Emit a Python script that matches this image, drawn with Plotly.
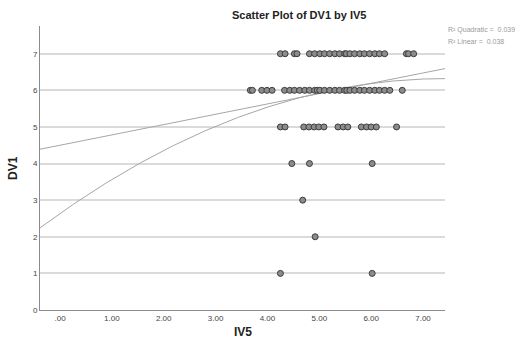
import numpy as np
import plotly.graph_objects as go

# ---- data ----
iv5_lvl7 = [4.25, 4.34, 4.52, 4.57, 4.81, 4.91, 5.01, 5.10, 5.20, 5.30, 5.39, 5.49, 5.52,
            5.59, 5.68, 5.78, 5.87, 5.97, 6.07, 6.16, 6.26, 6.68, 6.72, 6.82]
iv5_lvl6 = [3.67, 3.71, 3.89, 3.99, 4.09, 4.33, 4.43, 4.52, 4.62, 4.72, 4.81, 4.91, 4.96,
            5.01, 5.10, 5.20, 5.30, 5.39, 5.49, 5.53, 5.59, 5.68, 5.78, 5.87, 5.97, 6.07,
            6.16, 6.26, 6.36, 6.60]
iv5_lvl5 = [4.25, 4.34, 4.70, 4.80, 4.90, 4.99, 5.09, 5.36, 5.46, 5.55, 5.81, 5.91, 6.00,
            6.10, 6.49]
iv5_lvl4 = [4.47, 4.81, 6.02]
iv5_lvl3 = [4.68]
iv5_lvl2 = [4.92]
iv5_lvl1 = [4.25, 6.02]

levels = [7, 6, 5, 4, 3, 2, 1]
groups = [iv5_lvl7, iv5_lvl6, iv5_lvl5, iv5_lvl4, iv5_lvl3, iv5_lvl2, iv5_lvl1]

# fit coefficients
linear_coef = [4.50, 0.282]            # a, b
quad_coef = [2.636, 0.995, -0.0672]    # a, b, c
r2_quadratic = "0.039"
r2_linear = "0.038"

x_ticks = [0, 1, 2, 3, 4, 5, 6, 7]
x_ticktext = [".00", "1.00", "2.00", "3.00", "4.00", "5.00", "6.00", "7.00"]
y_ticks = [0, 1, 2, 3, 4, 5, 6, 7]

x_range = [-0.386, 7.424]
y_range = [0, 7.757]

# ---- build ----
xs, ys = [], []
for lv, g in zip(levels, groups):
    xs += g
    ys += [lv] * len(g)

xx = np.linspace(x_range[0], x_range[1], 200)
y_lin = linear_coef[0] + linear_coef[1] * xx
y_quad = quad_coef[0] + quad_coef[1] * xx + quad_coef[2] * xx ** 2

fig = go.Figure()
fig.add_trace(go.Scatter(x=xx, y=y_lin, mode="lines",
                         line=dict(color="#a6a6a6", width=1), hoverinfo="skip"))
fig.add_trace(go.Scatter(x=xx, y=y_quad, mode="lines",
                         line=dict(color="#a6a6a6", width=1), hoverinfo="skip"))
fig.add_trace(go.Scatter(x=xs, y=ys, mode="markers",
                         marker=dict(size=6, color="#8c8c8c",
                                     line=dict(color="#3c3c3c", width=1))))

font = "Liberation Sans, Arial, sans-serif"
fig.update_layout(
    width=518, height=345,
    margin=dict(l=40, r=73, t=26, b=35),
    paper_bgcolor="white", plot_bgcolor="white",
    showlegend=False,
    font=dict(family=font, size=8, color="#444444"),
    xaxis=dict(range=x_range, tickvals=x_ticks, ticktext=x_ticktext,
               showgrid=False, zeroline=False, showline=True,
               linecolor="#8c8c8c", linewidth=1, ticks="", ticklen=0,
               tickfont=dict(size=8, color="#444444")),
    yaxis=dict(range=y_range, tickvals=y_ticks, showgrid=True,
               gridcolor="#dadada", gridwidth=1.5, zeroline=False,
               showline=True, linecolor="#8c8c8c", linewidth=1, ticks="",
               tickfont=dict(size=8, color="#444444")),
    annotations=[
        dict(text="<b>Scatter Plot of DV1 by IV5</b>", xref="paper", yref="paper",
             x=(299 - 40) / 405, y=1 + (26 - 15) / 284, showarrow=False,
             xanchor="center", yanchor="middle",
             font=dict(family=font, size=11, color="#222222")),
        dict(text="<b>IV5</b>", xref="paper", yref="paper",
             x=0.5, y=-(332 - 310) / 284, showarrow=False,
             xanchor="center", yanchor="middle",
             font=dict(family=font, size=12, color="#222222")),
        dict(text="<b>DV1</b>", xref="paper", yref="paper",
             x=-(40 - 13) / 405, y=(310 - 168) / 284, showarrow=False, textangle=-90,
             xanchor="center", yanchor="middle",
             font=dict(family=font, size=12, color="#222222")),
        dict(text="R² Quadratic =  " + r2_quadratic, xref="paper", yref="paper",
             x=(446 - 40) / 405, y=(310 - 30) / 284, showarrow=False,
             xanchor="left", yanchor="middle",
             font=dict(family=font, size=7, color="#9a9a9a")),
        dict(text="R² Linear =  " + r2_linear, xref="paper", yref="paper",
             x=(446 - 40) / 405, y=(310 - 41) / 284, showarrow=False,
             xanchor="left", yanchor="middle",
             font=dict(family=font, size=7, color="#9a9a9a")),
    ],
)

fig.write_html("out.html")
